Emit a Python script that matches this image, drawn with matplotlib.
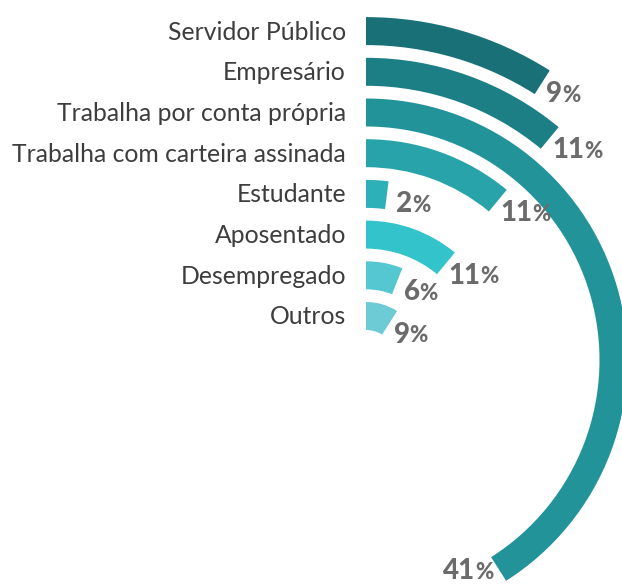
import numpy as np
import matplotlib
matplotlib.use('Agg')
import matplotlib.pyplot as plt

# data, outermost ring first
categories = ['Servidor Público', 'Empresário', 'Trabalha por conta própria',
              'Trabalha com carteira assinada', 'Estudante', 'Aposentado',
              'Desempregado', 'Outros']
percents = np.array([9, 11, 41, 11, 2, 11, 6, 9])
colors = ['#197177', '#1c7f86', '#219399', '#29a3aa',
          '#2eb0b8', '#33c3cb', '#55c7d0', '#6ccbd5']

W, H = 622, 586
CX, CY = 366, 360      # centre of the rings, pixels from top-left
RMAX = 360
bar_w = 28
pitch = 40.7
r0 = 30                # inner radius of the innermost ring

plt.rcParams['font.family'] = ['Lato', 'DejaVu Sans']

fig = plt.figure(figsize=(W / 100, H / 100), dpi=100)
ax = fig.add_axes([(CX - RMAX) / W, (H - CY - RMAX) / H, 2 * RMAX / W, 2 * RMAX / H],
                  projection='polar')
ax.set_theta_zero_location('N')
ax.set_theta_direction(-1)
ax.set_ylim(0, RMAX)
ax.axis('off')

n = len(categories)
inner = r0 + pitch * np.arange(n)[::-1]
mid = inner + bar_w / 2
theta_end = np.deg2rad(percents * 3.6)

ax.bar(np.zeros(n), bar_w, width=theta_end, bottom=inner, align='edge',
       color=colors, linewidth=0)

for cat, r in zip(categories, mid):
    ax.annotate(cat, xy=(0, r), xytext=(-20, -1), textcoords='offset pixels',
                ha='right', va='center', fontsize=17.8, color='#3d3d3d')

# value labels just past the end of each ring
grey = '#6b6b6b'
for v, th, r in zip(percents, theta_end, mid):
    if np.cos(th) > 0:
        d = 10
        off = (d * np.cos(th), -d * np.sin(th))
        num = ax.annotate(str(v), xy=(th, r - 8), xytext=off, textcoords='offset pixels',
                          ha='left', va='center', fontsize=20, fontweight='black',
                          color=grey)
        ax.annotate('%', xy=(1, 0), xycoords=num, xytext=(0, 1.5),
                    textcoords='offset pixels', ha='left', va='bottom',
                    fontsize=16, fontweight='black', color=grey)
    else:
        d = 8
        off = (d * np.cos(th) + 2, -d * np.sin(th) + 1)
        pct = ax.annotate('%', xy=(th, r), xytext=off,
                          textcoords='offset pixels', ha='right', va='center',
                          fontsize=16, fontweight='black', color=grey)
        ax.annotate(str(v), xy=(0, 0), xycoords=pct, xytext=(0, -1.5),
                    textcoords='offset pixels', ha='right', va='bottom',
                    fontsize=20, fontweight='black', color=grey)

fig.savefig('out.png', dpi=100)
